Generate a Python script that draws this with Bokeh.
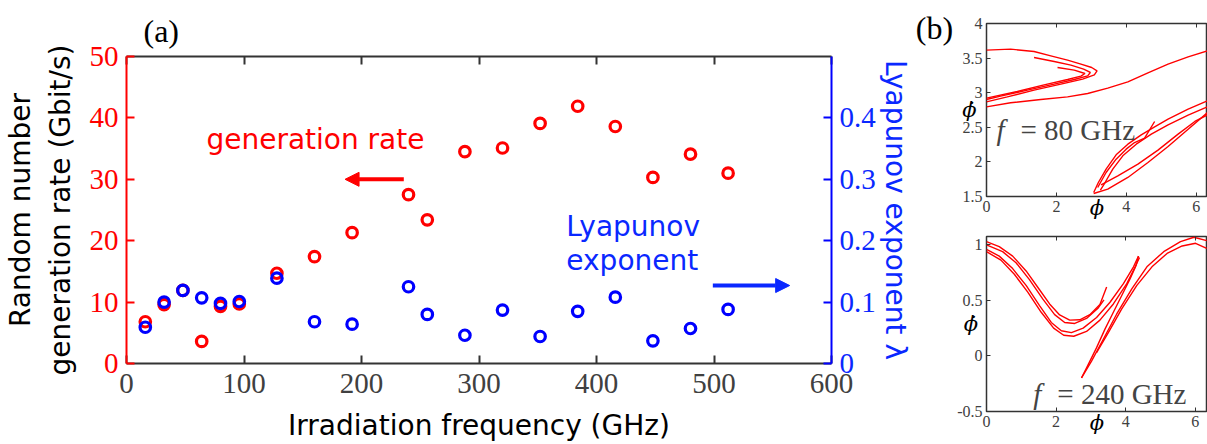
from bokeh.plotting import figure
from bokeh.models import (Range1d, LinearAxis, FixedTicker, Label, Arrow, NormalHead,
                          CustomJSTickFormatter)
from bokeh.layouts import row, column
from bokeh.embed import file_html
from bokeh.resources import INLINE

# ---------------- data: panel (a) ----------------
freq = [16, 32, 48, 64, 80, 96, 128, 160, 192, 240, 256, 288, 320, 352, 384, 416, 448, 480, 512]
rate = [6.8, 9.6, 11.9, 3.6, 9.3, 9.7, 14.7, 17.4, 21.3, 27.5, 23.4, 34.5, 35.1, 39.1, 41.9, 38.6, 30.3, 34.1, 31.0]
lyap = [0.059, 0.100, 0.119, 0.107, 0.098, 0.101, 0.139, 0.068, 0.064, 0.125, 0.080, 0.046, 0.087, 0.044, 0.085, 0.108, 0.037, 0.057, 0.088]
x_ticks = [0, 100, 200, 300, 400, 500, 600]
rate_ticks = [0, 10, 20, 30, 40, 50]
lyap_ticks = [0, 0.1, 0.2, 0.3, 0.4]

# ---------------- data: panel (b), f = 80 GHz (phi, phidot strands) ----------------
b80_x = [
    [0, 0.690, 1.360, 1.839, 2.318, 2.701, 3.008, 3.161, 3.084, 2.749, 2.126, 1.360, 0.594, 0],
    [1.360, 1.935, 2.414, 2.778, 2.969, 2.893, 2.510, 1.935, 1.169, 0.402, 0],
    [2.031, 2.510, 2.816, 2.701, 2.318, 1.648, 0.881, 0],
    [0, 0.690, 1.552, 2.318, 2.893, 3.467, 4.042, 4.617, 5.192, 5.766, 6.322],
    [6.322, 5.766, 5.192, 4.808, 4.425, 4.042, 3.707, 3.420, 3.199, 3.065],
    [6.322, 5.766, 5.192, 4.713, 4.282, 3.898, 3.611, 3.391, 3.257],
    [3.065, 3.467, 4.042, 4.617, 5.192, 5.766, 6.322],
    [3.180, 3.420, 3.707, 3.994, 4.234, 4.521, 4.808],
    [3.276, 3.755, 4.330, 4.904, 5.479, 5.958, 6.322],
]
b80_y = [
    [3.615, 3.629, 3.595, 3.533, 3.470, 3.412, 3.364, 3.316, 3.258, 3.196, 3.123, 3.037, 2.940, 2.868],
    [3.509, 3.451, 3.398, 3.340, 3.292, 3.244, 3.191, 3.123, 3.037, 2.950, 2.902],
    [3.364, 3.326, 3.277, 3.239, 3.191, 3.114, 3.017, 2.921],
    [2.796, 2.854, 2.902, 2.940, 2.988, 3.066, 3.157, 3.287, 3.412, 3.518, 3.605],
    [2.882, 2.762, 2.618, 2.507, 2.391, 2.256, 2.102, 1.895, 1.702, 1.558],
    [2.796, 2.675, 2.536, 2.401, 2.256, 2.088, 1.895, 1.702, 1.592],
    [1.543, 1.606, 1.775, 1.991, 2.223, 2.473, 2.714],
    [1.630, 1.847, 2.040, 2.184, 2.280, 2.343, 2.584],
    [1.669, 1.799, 1.967, 2.170, 2.401, 2.584, 2.680],
]

# ---------------- data: panel (b), f = 240 GHz ----------------
b240_x = [
    [0, 0.366, 0.752, 1.138, 1.524, 1.813, 2.102, 2.391, 2.681, 2.970, 3.259, 3.452],
    [0, 0.463, 0.849, 1.234, 1.620, 1.958, 2.247, 2.536, 2.874, 3.211, 3.375],
    [0, 0.366, 0.752, 1.138, 1.524, 1.861, 2.150, 2.440, 2.777, 3.163, 3.549, 3.934, 4.224, 4.368],
    [0, 0.415, 0.800, 1.186, 1.572, 1.929, 2.218, 2.507, 2.874, 3.259, 3.645, 4.031, 4.272, 4.397],
    [4.368, 4.301, 4.127, 3.886, 3.645, 3.404, 3.163, 2.922, 2.729],
    [2.729, 3.018, 3.356, 3.742, 4.175, 4.609, 5.092, 5.574, 5.960, 6.326],
    [3.163, 3.500, 3.886, 4.320, 4.754, 5.188, 5.622, 6.008, 6.326],
]
b240_y = [
    [1.024, 0.979, 0.894, 0.761, 0.592, 0.465, 0.366, 0.320, 0.323, 0.369, 0.459, 0.616],
    [0.994, 0.934, 0.834, 0.683, 0.508, 0.369, 0.299, 0.290, 0.335, 0.429, 0.502],
    [0.955, 0.894, 0.782, 0.631, 0.450, 0.299, 0.224, 0.208, 0.248, 0.344, 0.480, 0.647, 0.798, 0.894],
    [0.934, 0.858, 0.731, 0.571, 0.390, 0.248, 0.184, 0.175, 0.218, 0.320, 0.465, 0.647, 0.798, 0.882],
    [0.894, 0.813, 0.692, 0.541, 0.390, 0.239, 0.073, -0.079, -0.199],
    [-0.199, -0.048, 0.148, 0.375, 0.601, 0.798, 0.934, 1.024, 1.063, 1.033],
    [0.027, 0.208, 0.420, 0.631, 0.798, 0.918, 0.985, 1.009, 0.964],
]
phi_ticks = [0, 2, 4, 6]
b80_yticks = [1.5, 2, 2.5, 3, 3.5, 4]
b240_yticks = [-0.5, 0, 0.5, 1]

RED = "#ff0000"
BLUE = "#0000ff"
BLUE_T = "#0a28ff"
DARK = "#333333"
TICKC = "#404040"
SANS = "DejaVu Sans"
SERIF = "Liberation Serif"
MATH = "DejaVu Serif"

fmt = CustomJSTickFormatter(code="return String(Math.round(tick*1000)/1000);")
blank = CustomJSTickFormatter(code="return '';")

PA_W = 914
PB_W = 1207 - PA_W

# ================= panel (a) =================
pa = figure(width=PA_W, height=444, x_range=Range1d(0, 600), y_range=Range1d(0, 50),
            output_backend="svg", toolbar_location=None,
            min_border_left=125, min_border_right=PA_W - 832, min_border_top=56, min_border_bottom=81)
pa.outline_line_color = None
pa.xgrid.visible = False
pa.ygrid.visible = False
pa.background_fill_color = "white"
pa.border_fill_color = "white"

pa.title.text = "(a)"
pa.title.align = "left"
pa.title.offset = 17
pa.title.standoff = 16
pa.title.text_font = SERIF
pa.title.text_font_style = "normal"
pa.title.text_font_size = "32px"
pa.title.text_color = "black"

def style_axis(ax, color, label_color, lab_size="29px"):
    ax.axis_line_color = color
    ax.axis_line_width = 2
    ax.major_tick_line_color = color
    ax.major_tick_line_width = 2
    ax.major_tick_in = 8
    ax.major_tick_out = 0
    ax.minor_tick_line_color = None
    ax.major_label_text_color = label_color
    ax.major_label_text_font = SERIF
    ax.major_label_text_font_size = lab_size
    ax.axis_label_text_font = SANS
    ax.axis_label_text_font_style = "normal"
    ax.axis_label_text_font_size = "28px"

# bottom axis
xa = pa.xaxis[0]
style_axis(xa, DARK, TICKC)
xa.ticker = FixedTicker(ticks=x_ticks)
xa.formatter = fmt
xa.major_label_standoff = 10
xa.axis_label = "Irradiation frequency (GHz)"
xa.axis_label_text_color = "black"
xa.axis_label_standoff = 13

# left axis
ya = pa.yaxis[0]
style_axis(ya, RED, RED)
ya.ticker = FixedTicker(ticks=rate_ticks)
ya.formatter = fmt
ya.major_label_standoff = 8
ya.axis_label = "Random number\ngeneration rate (Gbit/s)"
ya.axis_label_text_color = "black"
ya.axis_label_text_line_height = 1.2
ya.axis_label_standoff = 10

# top axis (ticks only)
ta = LinearAxis(ticker=FixedTicker(ticks=x_ticks), formatter=blank)
style_axis(ta, DARK, DARK, lab_size="2px")
ta.major_label_standoff = 0
pa.add_layout(ta, "above")

# right axis
pa.extra_y_ranges = {"lyap": Range1d(0, 0.5)}
ra = LinearAxis(y_range_name="lyap", ticker=FixedTicker(ticks=lyap_ticks), formatter=fmt)
style_axis(ra, BLUE, BLUE_T)
ra.major_label_standoff = 8
ra.axis_label = "Lyapunov exponent λ"
ra.axis_label_text_color = BLUE_T
ra.axis_label_standoff = 0
pa.add_layout(ra, "right")

pa.scatter(freq, rate, marker="circle", size=10.5, fill_color=None, line_color=RED, line_width=3.2)
pa.scatter(freq, lyap, marker="circle", size=10.5, fill_color=None, line_color=BLUE, line_width=3.2,
           y_range_name="lyap")

pa.add_layout(Label(x=160.8, y=36.5, text="generation rate", text_font=SANS, text_font_size="28px",
                    text_align="center", text_baseline="alphabetic", text_color=RED))
pa.add_layout(Label(x=374.3, y=22.3, text="Lyapunov", text_font=SANS, text_font_size="28px",
                    text_align="left", text_baseline="alphabetic", text_color=BLUE_T))
pa.add_layout(Label(x=374.3, y=16.8, text="exponent", text_font=SANS, text_font_size="28px",
                    text_align="left", text_baseline="alphabetic", text_color=BLUE_T))
pa.add_layout(Arrow(end=NormalHead(size=14, fill_color=RED, line_color=RED),
                    x_start=236, y_start=30, x_end=186, y_end=30, line_color=RED, line_width=4))
pa.add_layout(Arrow(end=NormalHead(size=14, fill_color=BLUE_T, line_color=BLUE_T),
                    x_start=499, y_start=0.127, x_end=564.4, y_end=0.127, line_color=BLUE_T,
                    line_width=4, y_range_name="lyap"))

# ================= panel (b) =================
def phase_fig(xr, yr, yticks, h, mbt, mbb, dot_standoff):
    p = figure(width=PB_W, height=h, x_range=Range1d(*xr), y_range=Range1d(*yr),
               output_backend="svg", toolbar_location=None,
               min_border_left=986 - PA_W, min_border_right=0, min_border_top=mbt,
               min_border_bottom=mbb)
    p.xgrid.visible = False
    p.ygrid.visible = False
    p.outline_line_color = DARK
    p.outline_line_width = 1.5
    p.border_fill_color = "white"
    for ax, ticks in ((p.xaxis[0], phi_ticks), (p.yaxis[0], yticks)):
        ax.ticker = FixedTicker(ticks=ticks)
        ax.formatter = fmt
        ax.axis_line_color = None
        ax.major_tick_line_color = DARK
        ax.major_tick_in = 4
        ax.major_tick_out = 0
        ax.minor_tick_line_color = None
        ax.major_label_text_font = SERIF
        ax.major_label_text_font_size = "16px"
        ax.major_label_text_color = TICKC
        ax.major_label_standoff = 4
        ax.axis_label_text_font = MATH
        ax.axis_label_text_font_style = "italic"
        ax.axis_label_text_font_size = "21px"
        ax.axis_label_text_color = "black"
    p.xaxis[0].axis_label = "ϕ"
    p.xaxis[0].axis_label_standoff = -19
    p.yaxis[0].axis_label = "ϕ̇"
    p.yaxis[0].axis_label_orientation = "horizontal"
    p.yaxis[0].axis_label_standoff = dot_standoff
    top = LinearAxis(ticker=FixedTicker(ticks=phi_ticks), formatter=blank,
                     major_label_text_font_size="2px", major_label_standoff=0,
                     axis_line_color=None, major_tick_line_color=DARK, major_tick_in=4,
                     major_tick_out=0, minor_tick_line_color=None)
    p.add_layout(top, "above")
    return p

def f_label(p, xy, f_text):
    p.add_layout(Label(x=xy[0], y=xy[1], text="f", text_font=SERIF, text_font_style="italic",
                       text_font_size="29px", text_align="left", text_baseline="alphabetic"))
    p.add_layout(Label(x=xy[0], y=xy[1], x_offset=24, text=f_text, text_font=SERIF,
                       text_font_size="29px", text_align="left", text_baseline="alphabetic"))

pb1 = phase_fig((0, 6.32), (1.5, 4), b80_yticks, 223, 23, 27, -17)
pb1.multi_line(b80_x, b80_y, line_color=RED, line_width=1.4)
f_label(pb1, (0.286, 2.454), "= 80 GHz")
pb1.add_layout(Label(x=-1.487, y=3.93, text="(b)", text_font=SERIF, text_font_size="32px",
                     text_align="center", text_baseline="alphabetic", text_color="black"), "left")

pb2 = phase_fig((0, 6.35), (-0.5, 1.07), b240_yticks, 221, 13, 33, -24)
pb2.multi_line(b240_x, b240_y, line_color=RED, line_width=1.4)
f_label(pb2, (1.344, -0.345), "= 240 GHz")

layout = row(pa, column(pb1, pb2, spacing=0), spacing=0)
open("out.html", "w").write(file_html(layout, INLINE))
